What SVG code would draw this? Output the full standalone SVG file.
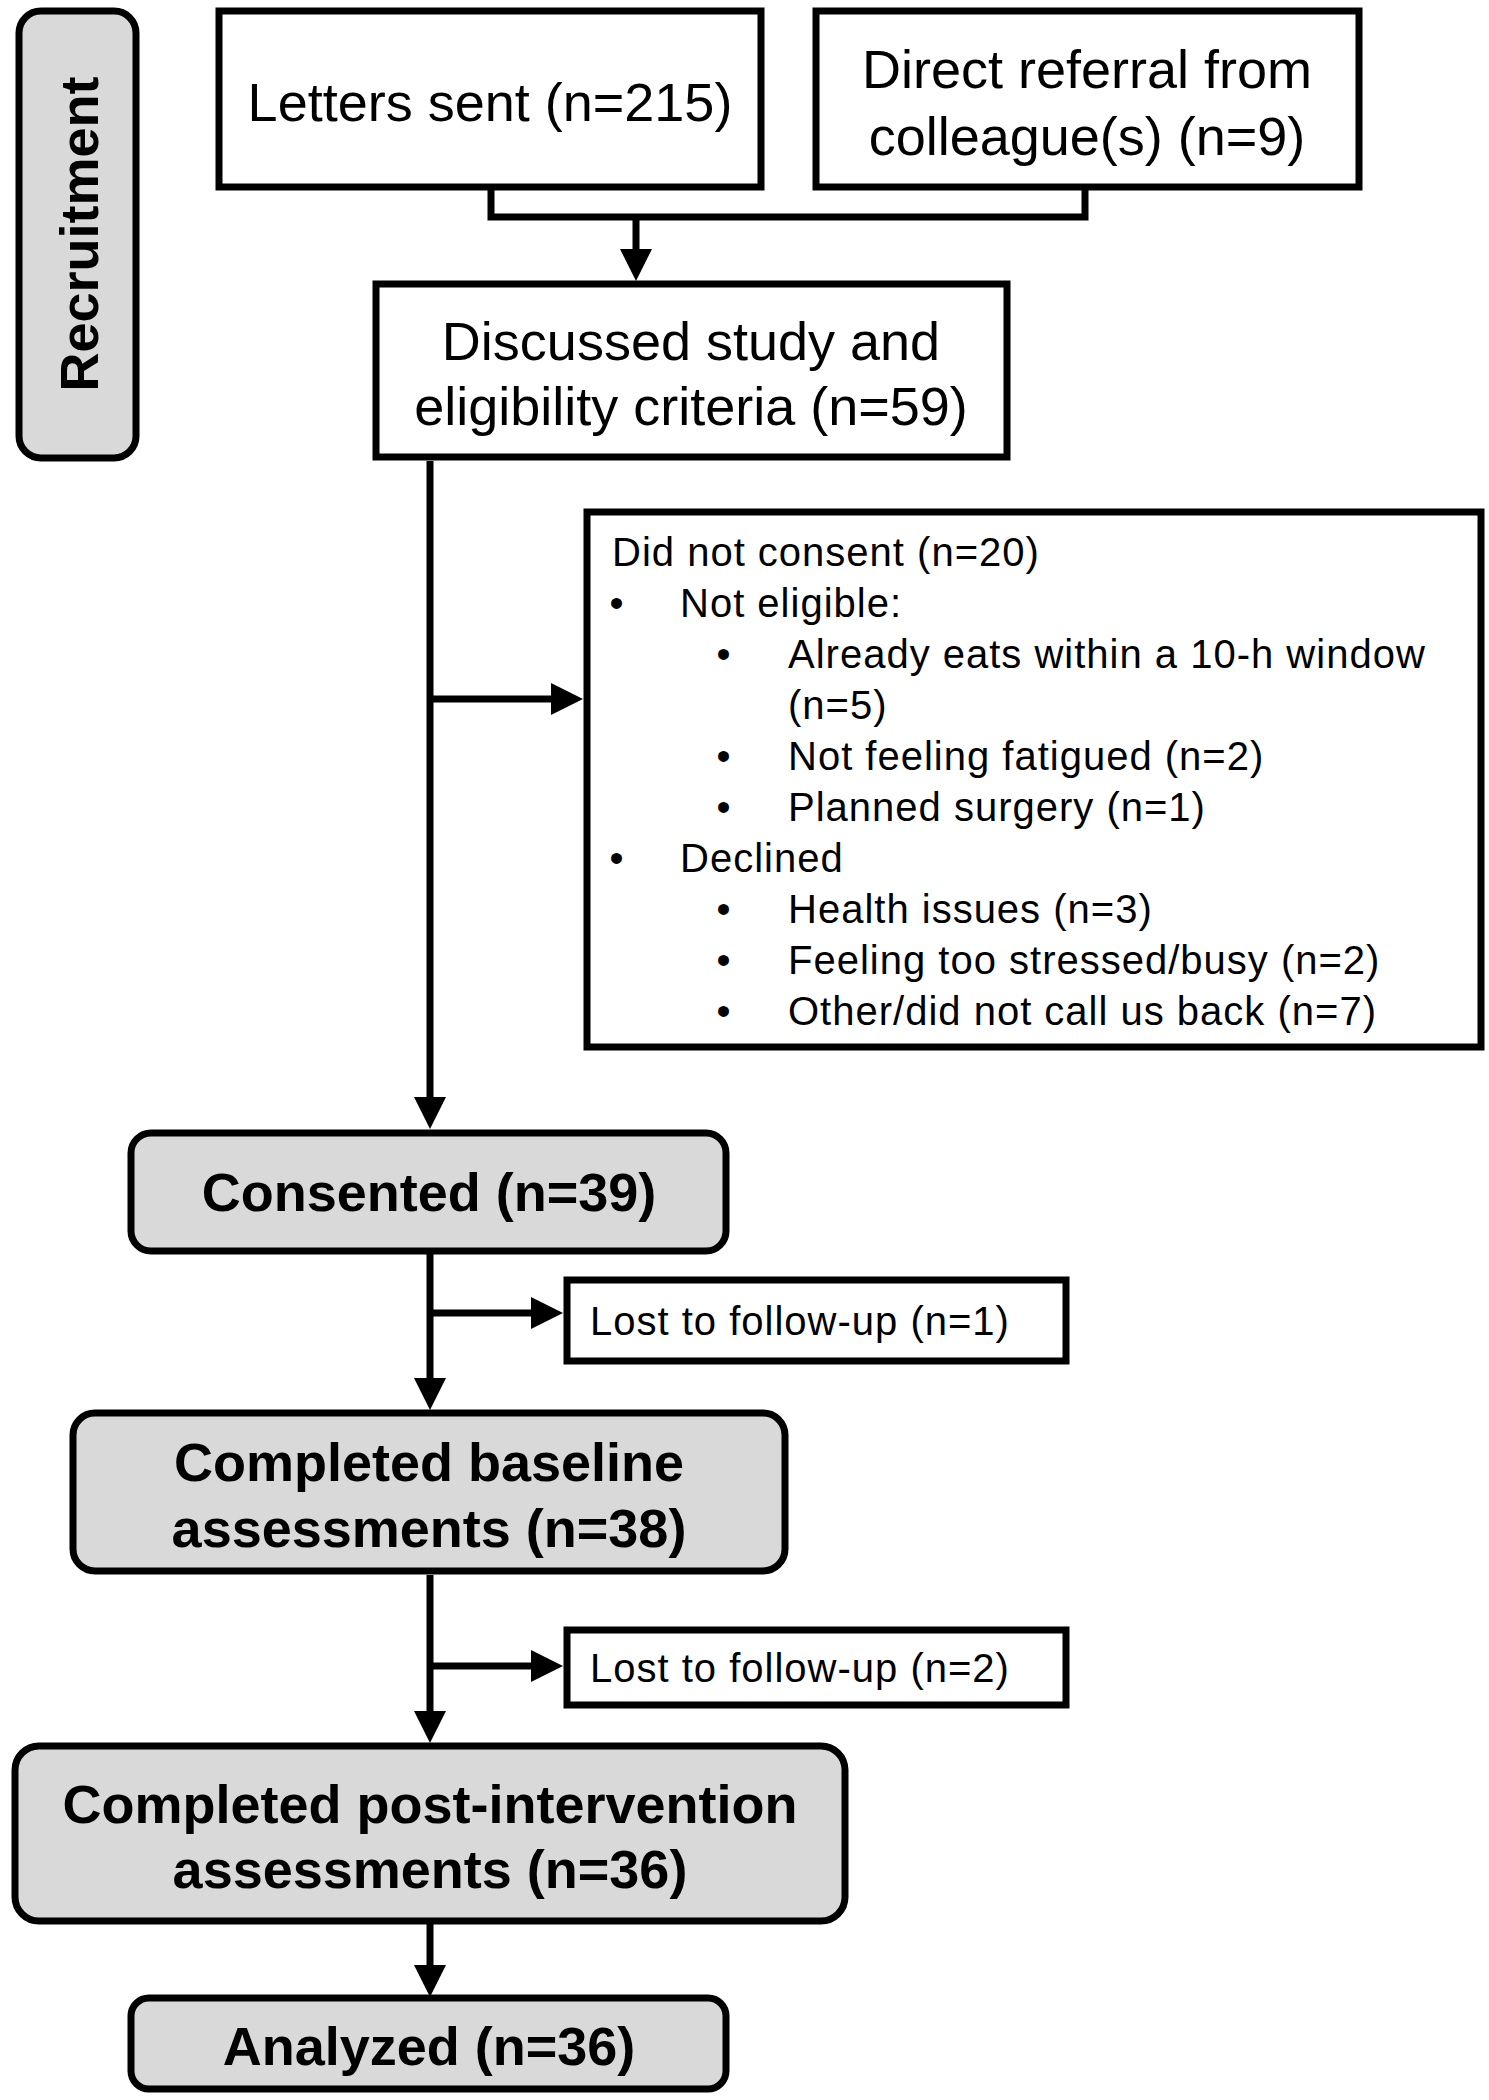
<svg xmlns="http://www.w3.org/2000/svg" width="1489" height="2100" viewBox="0 0 1489 2100">
<style>
.box{fill:#fff;stroke:#000;stroke-width:7}
.gbox{fill:#d9d9d9;stroke:#000;stroke-width:7}
.con{fill:none;stroke:#000;stroke-width:7}
.t{font-family:"Liberation Sans",Arial,sans-serif;font-size:54px;fill:#000}
.tb{font-family:"Liberation Sans",Arial,sans-serif;font-size:54px;font-weight:bold;fill:#000}
.ts{font-family:"Liberation Sans",Arial,sans-serif;font-size:40px;letter-spacing:1px;fill:#000}
.m{text-anchor:middle}
</style>
<defs>
<marker id="ah" markerUnits="userSpaceOnUse" markerWidth="34" markerHeight="34" refX="2" refY="16" orient="auto" viewBox="0 0 34 34">
<path d="M0,0 L32,16 L0,32 Z" fill="#000"/>
</marker>
</defs>
<rect width="1489" height="2100" fill="#fff"/>
<g id="connectors">
<path class="con" d="M491,187 V217 H1085 V187"/>
<path class="con" d="M636,217 V251" marker-end="url(#ah)"/>
<path class="con" d="M430,461 V1099" marker-end="url(#ah)"/>
<path class="con" d="M430,699 H553" marker-end="url(#ah)"/>
<path class="con" d="M430,1251 V1380" marker-end="url(#ah)"/>
<path class="con" d="M430,1313 H533" marker-end="url(#ah)"/>
<path class="con" d="M430,1575 V1713" marker-end="url(#ah)"/>
<path class="con" d="M430,1666 H533" marker-end="url(#ah)"/>
<path class="con" d="M430,1924 V1967" marker-end="url(#ah)"/>
</g>
<g id="recruitment">
<rect class="gbox" x="19" y="11" width="117" height="447" rx="22"/>
<text class="tb m" transform="translate(98,234) rotate(-90)">Recruitment</text>
</g>
<g id="letters">
<rect class="box" x="219" y="11" width="542" height="176"/>
<text class="t m" x="490" y="121">Letters sent (n=215)</text>
</g>
<g id="referral">
<rect class="box" x="816" y="11" width="543" height="176"/>
<text class="t m" x="1087" y="88">Direct referral from</text>
<text class="t m" x="1087" y="155">colleague(s) (n=9)</text>
</g>
<g id="discussed">
<rect class="box" x="376" y="284" width="631" height="173"/>
<text class="t m" x="691" y="360">Discussed study and</text>
<text class="t m" x="691" y="425">eligibility criteria (n=59)</text>
</g>
<g id="notconsent">
<rect class="box" x="587" y="512" width="894" height="535"/>
<text class="ts" x="612" y="566">Did not consent (n=20)</text>
<text class="ts m" x="617" y="617">•</text>
<text class="ts" x="680" y="617">Not eligible:</text>
<text class="ts m" x="724" y="668">•</text>
<text class="ts" x="788" y="668">Already eats within a 10-h window</text>
<text class="ts" x="788" y="719">(n=5)</text>
<text class="ts m" x="724" y="770">•</text>
<text class="ts" x="788" y="770">Not feeling fatigued (n=2)</text>
<text class="ts m" x="724" y="821">•</text>
<text class="ts" x="788" y="821">Planned surgery (n=1)</text>
<text class="ts m" x="617" y="872">•</text>
<text class="ts" x="680" y="872">Declined</text>
<text class="ts m" x="724" y="923">•</text>
<text class="ts" x="788" y="923">Health issues (n=3)</text>
<text class="ts m" x="724" y="974">•</text>
<text class="ts" x="788" y="974">Feeling too stressed/busy (n=2)</text>
<text class="ts m" x="724" y="1025">•</text>
<text class="ts" x="788" y="1025">Other/did not call us back (n=7)</text>
</g>
<g id="consented">
<rect class="gbox" x="131" y="1133" width="595" height="118" rx="20"/>
<text class="tb m" x="429" y="1211">Consented (n=39)</text>
</g>
<g id="lost1">
<rect class="box" x="567" y="1280" width="499" height="81"/>
<text class="ts" x="590" y="1335">Lost to follow-up (n=1)</text>
</g>
<g id="baseline">
<rect class="gbox" x="73" y="1413" width="712" height="158" rx="22"/>
<text class="tb m" x="429" y="1481">Completed baseline</text>
<text class="tb m" x="429" y="1547">assessments (n=38)</text>
</g>
<g id="lost2">
<rect class="box" x="567" y="1630" width="499" height="75"/>
<text class="ts" x="590" y="1682">Lost to follow-up (n=2)</text>
</g>
<g id="post">
<rect class="gbox" x="15" y="1746" width="830" height="175" rx="24"/>
<text class="tb m" x="430" y="1823">Completed post-intervention</text>
<text class="tb m" x="430" y="1888">assessments (n=36)</text>
</g>
<g id="analyzed">
<rect class="gbox" x="131" y="1998" width="595" height="91" rx="18"/>
<text class="tb m" x="429" y="2065">Analyzed (n=36)</text>
</g>
</svg>
